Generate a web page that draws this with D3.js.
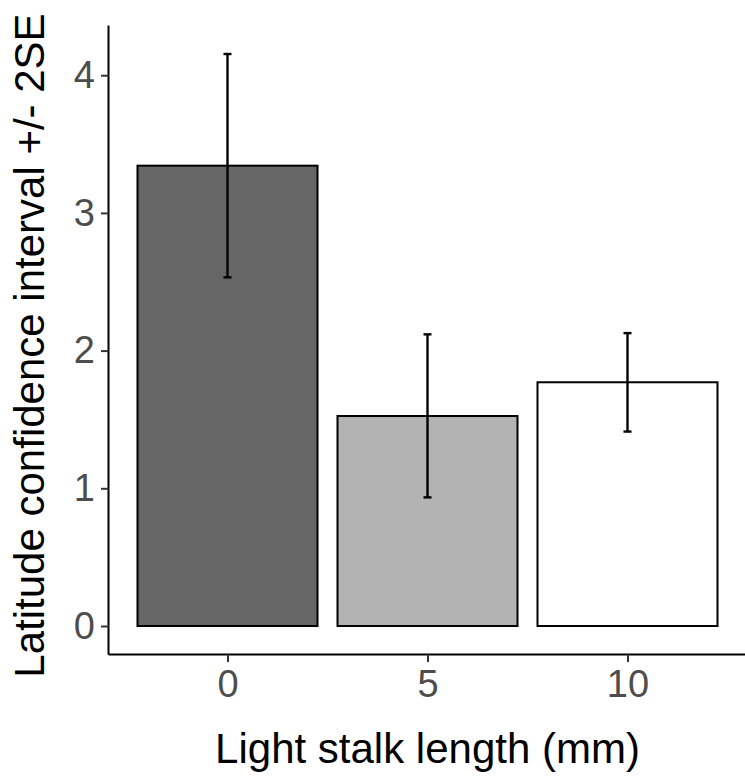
<!DOCTYPE html>
<html>
<head>
<meta charset="utf-8">
<script src="https://cdn.jsdelivr.net/npm/d3@7"></script>
<style>
  html, body { margin: 0; padding: 0; background: #fff; }
  svg { display: block; }
</style>
</head>
<body>
<script>
// ---- data ----
const categories = [0, 5, 10];
const means = [3.343, 1.525, 1.770];
const lower = [2.532, 0.934, 1.412];
const upper = [4.154, 2.118, 2.127];
const fills = ["#666666", "#b3b3b3", "#ffffff"];
const yTicks = [0, 1, 2, 3, 4];
const xTicks = [0, 5, 10];
const xTitle = "Light stalk length (mm)";
const yTitle = "Latitude confidence interval +/- 2SE";

const W = 745, H = 782;
const barWidth = 4.5; // in data units
const capWidth = 0.2;

const svg = d3.select("body").append("svg").attr("width", W).attr("height", H);

const x = d3.scaleLinear().domain([-2.975, 12.975]).range([108.5, 746.5]);
const y = d3.scaleLinear().domain([-0.2077, 4.3617]).range([654.6, 25.4]);

const font = "'Liberation Sans', Arial, sans-serif";

// bars
svg.append("g").selectAll("rect").data(categories).join("rect")
  .attr("x", (d) => x(d - barWidth / 2))
  .attr("width", (d) => x(d + barWidth / 2) - x(d - barWidth / 2))
  .attr("y", (d, i) => y(means[i]))
  .attr("height", (d, i) => y(0) - y(means[i]))
  .attr("fill", (d, i) => fills[i])
  .attr("stroke", "#000")
  .attr("stroke-width", 2);

// error bars
const eb = svg.append("g").attr("stroke", "#000").attr("stroke-width", 2.4);
categories.forEach((c, i) => {
  eb.append("line").attr("x1", x(c)).attr("x2", x(c)).attr("y1", y(upper[i])).attr("y2", y(lower[i]));
  eb.append("line").attr("x1", x(c - capWidth / 2)).attr("x2", x(c + capWidth / 2)).attr("y1", y(upper[i])).attr("y2", y(upper[i]));
  eb.append("line").attr("x1", x(c - capWidth / 2)).attr("x2", x(c + capWidth / 2)).attr("y1", y(lower[i])).attr("y2", y(lower[i]));
});

// axes
const yAxis = svg.append("g").attr("transform", `translate(${x.range()[0]},0)`)
  .call(d3.axisLeft(y).tickValues(yTicks).tickSize(7.5).tickPadding(6).tickFormat(d3.format("d")));
const xAxis = svg.append("g").attr("transform", `translate(0,${y.range()[0]})`)
  .call(d3.axisBottom(x).tickValues(xTicks).tickSize(7.5).tickPadding(8).tickFormat(d3.format("d")));

[yAxis, xAxis].forEach(a => {
  a.select(".domain").attr("stroke", "#000").attr("stroke-width", 2);
  a.selectAll(".tick line").attr("stroke", "#333").attr("stroke-width", 2);
  a.selectAll(".tick text").attr("fill", "#4d4d4d").style("font-family", font).style("font-size", "38px");
});
yAxis.select(".domain").attr("d", `M0,${y.range()[1]}V${y.range()[0]}`);
xAxis.select(".domain").attr("d", `M${x.range()[0]},0H${x.range()[1]}`);

// titles
svg.append("text")
  .attr("x", 427.5).attr("y", 763.3)
  .attr("text-anchor", "middle")
  .style("font-family", font).style("font-size", "42px").attr("fill", "#000")
  .text(xTitle);

svg.append("text")
  .attr("transform", "translate(44,345.5) rotate(-90)")
  .attr("text-anchor", "middle")
  .style("font-family", font).style("font-size", "42px").attr("fill", "#000")
  .text(yTitle);
</script>
</body>
</html>
